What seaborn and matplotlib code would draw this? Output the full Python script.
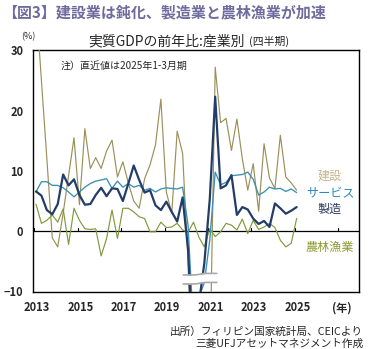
import numpy as np
import pandas as pd
import matplotlib
matplotlib.use("Agg")
import matplotlib.pyplot as plt
import seaborn as sns

# Philippines real GDP, year-on-year growth by industry (%), quarterly
quarters = pd.period_range("2013Q1", "2025Q1", freq="Q")

construction = [38.0, 25.0, 12.0, -1.1, -2.6, 3.0, 9.2, 15.5, 4.4, 17.0,
                10.4, 12.2, 10.4, 13.3, 15.1, 9.0, 11.5, 8.0, 5.0, 3.8,
                8.7, 11.0, 14.3, 21.9, 6.5, 3.0, 16.6, 12.9, -5.0, -33.0,
                -39.0, -25.0, -24.0, 27.2, 18.0, 18.7, 13.4, 18.6, 12.0, 6.8,
                11.2, 3.3, 14.5, 8.8, 7.1, 15.9, 9.0, 8.0, 6.8]

services = [6.5, 8.2, 8.2, 7.6, 7.6, 7.2, 6.5, 5.7, 6.5, 7.3,
            7.9, 8.3, 8.5, 8.7, 7.1, 8.3, 7.3, 7.9, 7.3, 7.6,
            6.8, 7.1, 6.5, 7.0, 7.2, 7.1, 7.0, 7.3, 1.0, -16.0,
            -11.0, -8.5, -1.5, 9.8, 7.7, 8.1, 9.2, 9.3, 9.4, 9.8,
            8.6, 6.0, 6.5, 7.3, 7.0, 7.1, 6.6, 7.0, 6.4]

manufacturing = [6.6, 5.9, 3.5, 2.8, 4.5, 9.4, 7.6, 8.6, 6.0, 4.4,
                 4.5, 6.0, 7.2, 5.8, 7.1, 7.0, 5.0, 7.9, 10.9, 8.5,
                 6.4, 6.8, 4.3, 3.5, 4.9, 3.2, 1.6, 5.6, -3.0, -22.0,
                 -12.0, -5.3, 5.3, 22.3, 7.1, 7.6, 9.3, 2.7, 4.0, 3.6,
                 2.1, 1.2, 1.7, 0.7, 4.6, 3.8, 2.9, 3.4, 4.0]

agriculture = [4.5, 1.3, 1.8, 2.7, 1.5, 3.7, -2.2, 3.8, 1.8, 0.4,
               0.3, 0.4, -4.1, -1.2, 3.5, -1.2, 3.8, 3.8, 3.2, 2.4,
               2.1, -0.1, -0.1, 1.5, 0.6, 0.7, 1.3, 0.2, -0.2, 1.5,
               -1.0, -2.6, 0.4, -0.9, -0.1, 1.3, 1.0, 0.2, 2.0, -0.4,
               1.8, 0.3, 0.7, 1.3, 0.6, -1.5, -2.6, -2.0, 2.1]

year_labels = [2013, 2015, 2017, 2019, 2021, 2023, 2025]
y_ticks = [-10, 0, 10, 20, 30]

sns.set_style("white")
plt.rcParams["font.family"] = ["Noto Sans CJK JP", "DejaVu Sans"]

t = quarters.year + (quarters.quarter - 1) / 4
df = pd.DataFrame({"t": t, "建設": construction, "農林漁業": agriculture,
                   "サービス": services, "製造": manufacturing})

styles = {
    "建設": dict(color="#9C8F5A", lw=0.85, label_color="#C4B68C", ly=9.15),
    "農林漁業": dict(color="#7F9A3C", lw=0.85, label_color="#8E9A2C", ly=-2.62),
    "サービス": dict(color="#3B8FAF", lw=0.95, label_color="#2A89B8", ly=6.33),
    "製造": dict(color="#243D68", lw=1.6, label_color="#2B3A5E", ly=3.68),
}

fig = plt.figure(figsize=(3.75, 3.49), dpi=100)
ax = fig.add_axes([33 / 375, 1 - 291.5 / 349, (359 - 33) / 375, (291.5 - 50.3) / 349])

ax.axhline(0, color="black", lw=0.9, zorder=1.5)

for name, st in styles.items():
    sns.lineplot(data=df, x="t", y=name, color=st["color"], lw=st["lw"],
                 ax=ax, zorder=3)
    ax.text(2026.54, st["ly"], name, color=st["label_color"], fontsize=8.7,
            ha="center", va="center")

ax.set_xlim(2012.862, 2027.871)
ax.set_ylim(-10, 30)
ax.set_xlabel("")
ax.set_ylabel("")

# year ticks drawn upward from the zero line
for yr in year_labels + [2027]:
    ax.plot([yr - 0.08, yr - 0.08], [0, 0.6], color="black", lw=0.8, zorder=2)

ax.set_xticks([yr + 0.04 for yr in year_labels] + [2027.1])
ax.set_xticklabels([str(yr) for yr in year_labels] + ["(年)"])
ax.tick_params(axis="x", length=0, pad=7, labelsize=8)
ax.set_yticks(y_ticks)
ax.tick_params(axis="y", direction="in", length=3, width=0.8, pad=7, labelsize=8)
for lbl in ax.get_xticklabels() + ax.get_yticklabels():
    lbl.set_fontweight("bold")

for sp in ax.spines.values():
    sp.set_color("black")
    sp.set_linewidth(1.0)

# axis break marker across the 2020 collapse
xs = np.linspace(2019.78, 2021.32, 60)
wave = 0.13 * np.tanh((xs - 2020.55) * 6)
upper = -7.13 + wave
lower = -8.62 + wave
ax.fill_between(xs, lower, upper, color="white", zorder=5, lw=0)
ax.plot(xs, upper, color="#A8A8A8", lw=1.2, zorder=6)
ax.plot(xs, lower, color="#A8A8A8", lw=1.2, zorder=6)

ax.text(2014.15, 27.45, "注）直近値は2025年1-3月期", fontsize=7.2,
        ha="left", va="center")

fig.text(2 / 375, 1 - 12 / 349, "【図3】建設業は鈍化、製造業と農林漁業が加速",
         fontsize=10.8, fontweight="bold", color="#6E6B9E", ha="left", va="center")
fig.text(88 / 375, 1 - 41.7 / 349, "実質GDPの前年比:産業別", fontsize=10,
         ha="left", va="center")
fig.text(249 / 375, 1 - 41.7 / 349, "(四半期)", fontsize=7.8, ha="left", va="center")
fig.text(28.5 / 375, 1 - 36.5 / 349, "(%)", fontsize=6.5, ha="center", va="center")
fig.text(363 / 375, 1 - 331.7 / 349, "出所）フィリピン国家統計局、CEICより",
         fontsize=7.7, ha="right", va="center")
fig.text(363 / 375, 1 - 343.3 / 349, "三菱UFJアセットマネジメント作成",
         fontsize=7.7, ha="right", va="center")

fig.savefig("out.png", dpi=100)
